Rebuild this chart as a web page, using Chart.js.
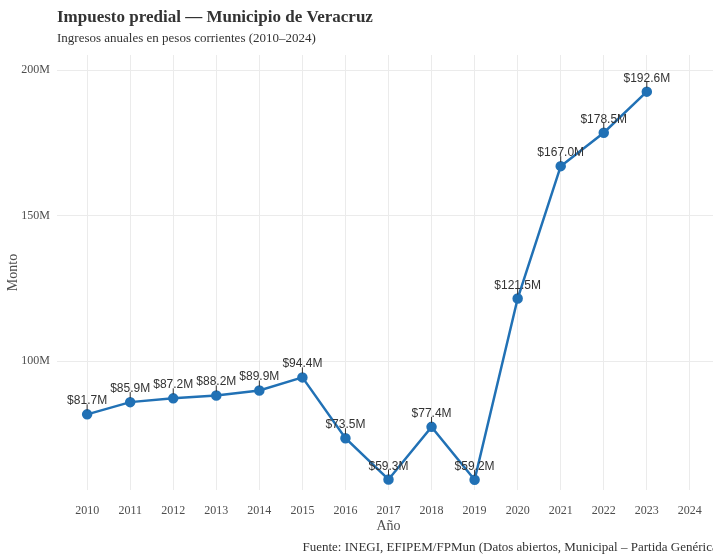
<!DOCTYPE html>
<html lang="es">
<head>
<meta charset="utf-8">
<script src="https://cdn.jsdelivr.net/npm/chart.js@4"></script>
<style>
  html, body { margin: 0; padding: 0; background: #ffffff; overflow: hidden; }
  #wrap { width: 740px; height: 557px; }
</style>
</head>
<body>
<div id="wrap"><canvas id="c" width="740" height="557"></canvas></div>
<script>
// ---- Data ----
const years = [2010, 2011, 2012, 2013, 2014, 2015, 2016, 2017, 2018, 2019, 2020, 2021, 2022, 2023, 2024];
const montos = [81.7, 85.9, 87.2, 88.2, 89.9, 94.4, 73.5, 59.3, 77.4, 59.2, 121.5, 167.0, 178.5, 192.6, null];
const yTicks = [100, 150, 200];
const titleText = "Impuesto predial — Municipio de Veracruz";
const subtitleText = "Ingresos anuales en pesos corrientes (2010–2024)";
const xTitle = "Año";
const yTitle = "Monto";
const captionText = "Fuente: INEGI, EFIPEM/FPMun (Datos abiertos, Municipal – Partida Genérica)";

const lineColor = '#2171b5';
const gridColor = '#ebebeb';
const serif = "'Liberation Serif', 'DejaVu Serif', serif";
const sans = "'Liberation Sans', Arial, sans-serif";

const points = years.map((y, i) => ({ x: y, y: montos[i] })).filter(p => p.y !== null);

const labelPlugin = {
  id: 'pointLabels',
  afterDatasetsDraw(chart) {
    const ctx = chart.ctx;
    const meta = chart.getDatasetMeta(0);
    ctx.save();
    meta.data.forEach((el, i) => {
      const v = points[i].y;
      const px = el.x, py = el.y;
      ctx.strokeStyle = '#333333';
      ctx.lineWidth = 1;
      ctx.beginPath();
      ctx.moveTo(px, py - 4);
      ctx.lineTo(px, py - 10);
      ctx.stroke();
      ctx.fillStyle = '#333333';
      ctx.font = "12px " + sans;
      ctx.textAlign = 'center';
      ctx.textBaseline = 'alphabetic';
      ctx.fillText('$' + v.toFixed(1) + 'M', px, py - 10);
    });
    ctx.restore();
  },
  afterDraw(chart) {
    const ctx = chart.ctx;
    ctx.save();
    ctx.fillStyle = '#333333';
    ctx.font = "13px " + serif;
    ctx.textAlign = 'right';
    ctx.textBaseline = 'middle';
    ctx.fillText(captionText, chart.chartArea.right + 2, 548);
    ctx.restore();
  }
};

new Chart(document.getElementById('c'), {
  type: 'line',
  data: {
    datasets: [{
      data: points,
      borderColor: lineColor,
      backgroundColor: lineColor,
      borderWidth: 2.5,
      pointRadius: 4,
      pointHoverRadius: 4,
      pointBackgroundColor: lineColor,
      pointBorderColor: lineColor,
      tension: 0
    }]
  },
  options: {
    responsive: false,
    animation: false,
    events: [],
    layout: { padding: { left: 0, right: 20, top: 0, bottom: 20 } },
    plugins: {
      legend: { display: false },
      tooltip: { enabled: false },
      title: {
        display: true, text: titleText, align: 'start', fullSize: false,
        color: '#333333', font: { family: serif, size: 17, weight: 'bold' },
        padding: { top: 7, bottom: 3 }
      },
      subtitle: {
        display: true, text: subtitleText, align: 'start', fullSize: false,
        color: '#333333', font: { family: serif, size: 13 },
        padding: { top: 0, bottom: 9 }
      }
    },
    scales: {
      x: {
        type: 'linear',
        min: 2009.3, max: 2024.7,
        afterBuildTicks: s => { s.ticks = years.map(v => ({ value: v })); },
        afterFit: s => { s.height = 47; },
        grid: { color: gridColor, lineWidth: 1, drawTicks: false },
        border: { display: false },
        ticks: {
          color: '#4d4d4d', font: { family: serif, size: 12 }, padding: 14,
          maxRotation: 0, autoSkip: false,
          callback: v => String(v)
        },
        title: {
          display: true, text: xTitle, color: '#4d4d4d',
          font: { family: serif, size: 14 }, padding: { top: 0, bottom: 2 }
        }
      },
      y: {
        type: 'linear',
        min: 55.7, max: 205.2,
        afterBuildTicks: s => { s.ticks = yTicks.map(v => ({ value: v })); },
        afterFit: s => { s.width = 57; },
        grid: { color: gridColor, lineWidth: 1, drawTicks: false },
        border: { display: false },
        ticks: {
          color: '#4d4d4d', font: { family: serif, size: 12 }, padding: 7,
          callback: v => v + 'M'
        },
        title: {
          display: true, text: yTitle, color: '#4d4d4d',
          font: { family: serif, size: 14 }, padding: { top: 5, bottom: 0 }
        }
      }
    }
  },
  plugins: [labelPlugin]
});
</script>
</body>
</html>
